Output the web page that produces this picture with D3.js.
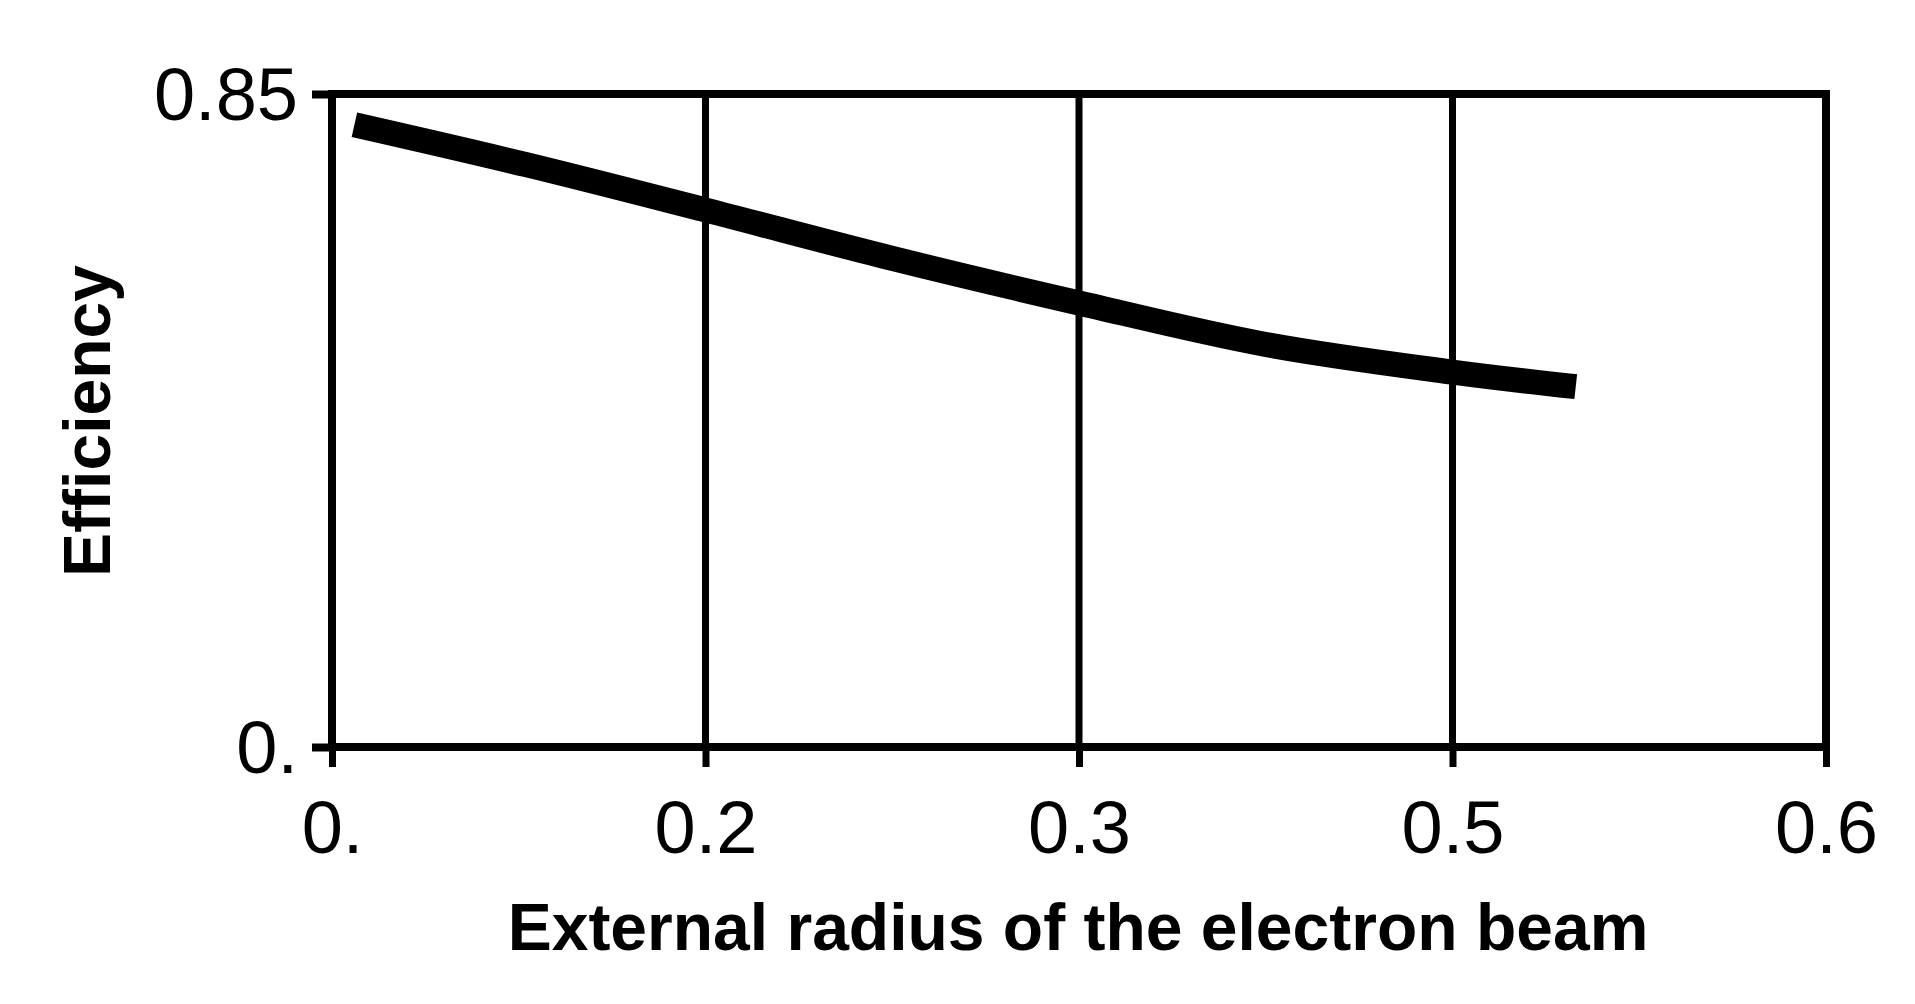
<!DOCTYPE html>
<html><head><meta charset="utf-8">
<script src="https://cdn.jsdelivr.net/npm/d3@7"></script>
<style>body{margin:0;background:#fff}text{font-family:"Liberation Sans",Arial,sans-serif}</style>
</head><body><svg id="c" width="1915" height="1004"></svg>
<script>
const xTickLabels = ["0.", "0.2", "0.3", "0.5", "0.6"];
const yTickLabels = ["0.", "0.85"];
const yTickValues = [0, 0.85];
const xPos = [0.06, 0.52, 1.0, 1.5, 2.0, 2.5, 3.0, 3.33];
const efficiency = [0.810, 0.758, 0.699, 0.636, 0.578, 0.524, 0.488, 0.469];

const svg = d3.select("#c");
const L=332,R=1826,T=94,B=747;
const x = d3.scaleLinear().domain([0,4]).range([L,R]);
const y = d3.scaleLinear().domain([0,0.85]).range([B,T]);

svg.selectAll(".g").data([1,2,3]).enter().append("line")
 .attr("x1",d=>x(d)).attr("x2",d=>x(d)).attr("y1",T).attr("y2",B)
 .attr("stroke","#000").attr("stroke-width",7);
svg.append("rect").attr("x",L).attr("y",T).attr("width",R-L).attr("height",B-T)
 .attr("fill","none").attr("stroke","#000").attr("stroke-width",8);

const xa = svg.append("g").attr("transform",`translate(0,${B})`)
 .call(d3.axisBottom(x).tickValues([0,1,2,3,4]).tickFormat((d,i)=>xTickLabels[i]).tickSize(20).tickPadding(33));
xa.select(".domain").remove();
xa.selectAll("line").attr("stroke-width",7);
xa.selectAll("text").attr("font-size",74).attr("fill","#000").attr("dy","0.71em");

const ya = svg.append("g").attr("transform",`translate(${L},0)`)
 .call(d3.axisLeft(y).tickValues(yTickValues).tickFormat((d,i)=>yTickLabels[i]).tickSize(20).tickPadding(14));
ya.select(".domain").remove();
ya.selectAll("line").attr("stroke-width",8);
ya.selectAll("text").attr("font-size",74).attr("fill","#000").attr("dy","0.35em");

svg.append("path").datum(xPos.map((v,i)=>[v,efficiency[i]]))
 .attr("d",d3.line().x(d=>x(d[0])).y(d=>y(d[1])).curve(d3.curveCatmullRom))
 .attr("fill","none").attr("stroke","#000").attr("stroke-width",25);

svg.append("text").attr("x",1078).attr("y",950).attr("text-anchor","middle")
 .attr("font-size",66).attr("font-weight","bold").text("External radius of the electron beam");
svg.append("text").attr("transform","translate(110,421) rotate(-90)").attr("text-anchor","middle")
 .attr("font-size",66).attr("font-weight","bold").text("Efficiency");
</script></body></html>
